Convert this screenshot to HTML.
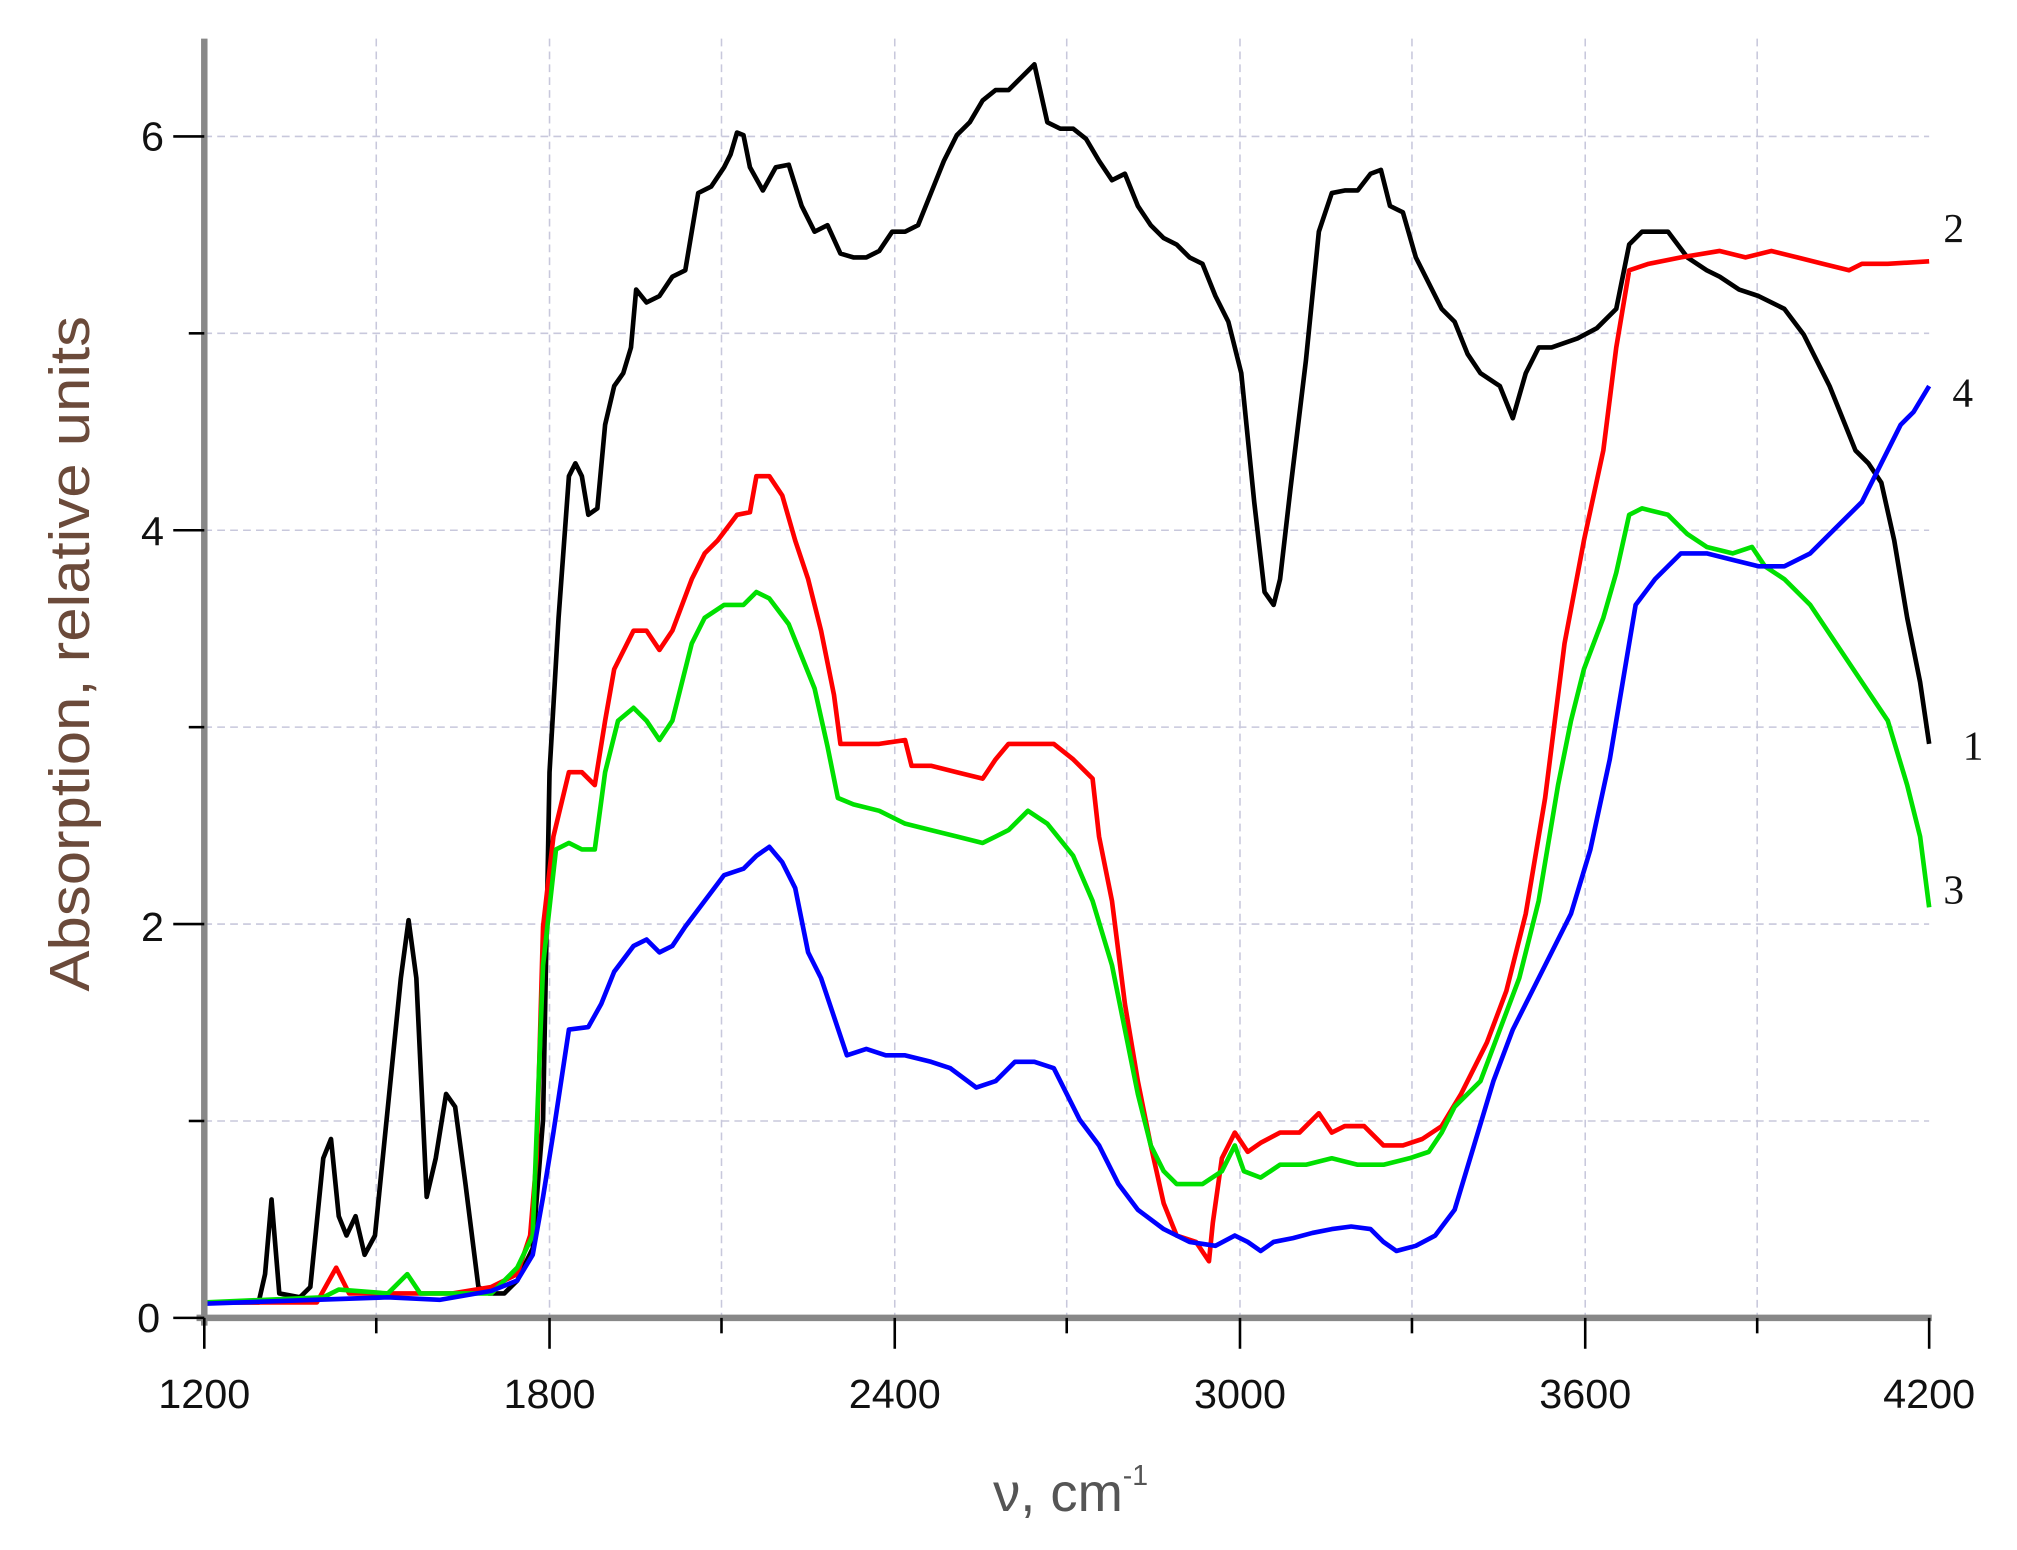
<!DOCTYPE html>
<html><head><style>html,body{margin:0;padding:0;background:#fff;}svg{display:block}</style></head>
<body>
<svg width="2017" height="1550" viewBox="0 0 2017 1550" xmlns="http://www.w3.org/2000/svg">
<rect width="2017" height="1550" fill="#fff"/>
<g transform="scale(1.293,1.287)">
<g stroke="#c8c8dc" stroke-width="1.2" stroke-dasharray="6,4" fill="none">
<line x1="291" y1="30" x2="291" y2="1024"/><line x1="425" y1="30" x2="425" y2="1024"/><line x1="558" y1="30" x2="558" y2="1024"/><line x1="692" y1="30" x2="692" y2="1024"/><line x1="825" y1="30" x2="825" y2="1024"/><line x1="959" y1="30" x2="959" y2="1024"/><line x1="1092" y1="30" x2="1092" y2="1024"/><line x1="1226" y1="30" x2="1226" y2="1024"/><line x1="1359" y1="30" x2="1359" y2="1024"/>
<line x1="158" y1="871" x2="1492" y2="871"/><line x1="158" y1="718" x2="1492" y2="718"/><line x1="158" y1="565" x2="1492" y2="565"/><line x1="158" y1="412" x2="1492" y2="412"/><line x1="158" y1="259" x2="1492" y2="259"/><line x1="158" y1="106" x2="1492" y2="106"/>
</g>
<g fill="none" stroke-width="3.6" stroke-linejoin="round">
<polyline stroke="#000" points="158,1012 200,1012 205,990 210,932 216,1005 232,1008 240,1000 250,900 256,885 262,945 268,960 275,945 282,975 290,960 300,860 310,760 316,715 322,760 330,930 337,900 345,850 352,860 360,920 370,1000 378,1005 390,1005 400,995 412,970 420,870 425,600 432,480 440,370 445,360 450,370 455,400 462,395 468,330 475,300 482,290 488,270 492,225 500,235 510,230 520,215 530,210 540,150 550,145 560,130 565,120 570,103 575,105 580,130 590,148 600,130 610,128 620,160 630,180 640,175 650,197 660,200 670,200 680,195 690,180 700,180 710,175 720,150 730,125 740,105 750,95 760,78 770,70 780,70 790,60 800,50 810,95 820,100 830,100 840,108 850,125 860,140 870,135 880,160 890,175 900,185 910,190 920,200 930,205 940,230 950,250 960,290 970,390 978,460 985,470 990,450 998,380 1010,280 1020,180 1030,150 1040,148 1050,148 1060,135 1068,132 1075,160 1085,165 1095,200 1105,220 1115,240 1125,250 1135,275 1145,290 1160,300 1170,325 1180,290 1185,280 1190,270 1200,270 1220,263 1235,255 1250,240 1260,190 1270,180 1290,180 1305,200 1320,210 1330,215 1345,225 1360,230 1370,235 1380,240 1395,260 1405,280 1415,300 1425,325 1435,350 1445,360 1455,375 1465,420 1475,480 1485,530 1492,578"/>
<polyline stroke="#f00" points="158,1012 245,1012 260,985 270,1005 300,1005 320,1005 350,1005 380,1000 400,990 410,960 415,900 420,720 428,650 440,600 450,600 460,610 468,560 475,520 490,490 500,490 510,505 520,490 535,450 545,430 555,420 570,400 580,398 585,370 595,370 605,385 615,420 625,450 635,490 645,540 650,578 660,578 680,578 700,575 705,595 720,595 740,600 760,605 770,590 780,578 800,578 815,578 830,590 845,605 850,650 860,700 870,780 880,840 890,890 900,935 910,960 925,965 935,980 938,950 945,900 955,880 965,895 975,888 990,880 1005,880 1020,865 1030,880 1040,875 1055,875 1060,880 1070,890 1085,890 1100,885 1115,875 1130,850 1150,810 1165,770 1180,710 1195,620 1210,500 1225,420 1240,350 1250,270 1260,210 1275,205 1300,200 1330,195 1350,200 1370,195 1390,200 1410,205 1430,210 1440,205 1460,205 1492,203"/>
<polyline stroke="#00e000" points="158,1012 250,1008 262,1002 300,1005 315,990 325,1005 380,1005 400,985 412,960 420,750 430,660 440,655 450,660 460,660 468,600 478,560 490,550 500,560 510,575 520,560 535,500 545,480 560,470 575,470 585,460 595,465 610,485 620,510 630,535 640,580 648,620 660,625 680,630 700,640 720,645 740,650 760,655 770,650 780,645 795,630 810,640 830,665 845,700 860,750 870,800 880,850 890,890 900,910 910,920 930,920 945,910 955,890 962,910 975,915 990,905 1010,905 1030,900 1050,905 1070,905 1090,900 1105,895 1115,880 1125,860 1145,840 1160,800 1175,760 1190,700 1205,610 1215,560 1225,520 1240,480 1250,445 1260,400 1270,395 1290,400 1305,415 1320,425 1340,430 1355,425 1365,440 1380,450 1400,470 1420,500 1440,530 1460,560 1475,610 1485,650 1492,705"/>
<polyline stroke="#00f" points="158,1013 300,1008 340,1010 380,1003 400,995 412,975 420,930 428,880 440,800 455,798 465,780 475,755 490,735 500,730 510,740 520,735 530,720 545,700 560,680 575,675 585,665 595,658 605,670 615,690 625,740 635,760 645,790 655,820 670,815 685,820 700,820 720,825 735,830 755,845 770,840 785,825 800,825 815,830 825,850 835,870 850,890 865,920 880,940 900,955 920,965 940,968 955,960 965,965 975,972 985,965 1000,962 1015,958 1030,955 1045,953 1060,955 1070,965 1080,972 1095,968 1110,960 1125,940 1140,890 1155,840 1170,800 1185,770 1200,740 1215,710 1230,660 1245,590 1255,530 1265,470 1280,450 1300,430 1320,430 1340,435 1360,440 1380,440 1400,430 1420,410 1440,390 1455,360 1470,330 1480,320 1492,300"/>
</g>
<g stroke="#888" stroke-width="5"><line x1="158" y1="30" x2="158" y2="1030"/><line x1="152" y1="1024" x2="1494" y2="1024"/></g>
<g stroke="#000" stroke-width="2">
<line x1="158" y1="1024" x2="158" y2="1048"/><line x1="425" y1="1024" x2="425" y2="1048"/><line x1="692" y1="1024" x2="692" y2="1048"/><line x1="959" y1="1024" x2="959" y2="1048"/><line x1="1226" y1="1024" x2="1226" y2="1048"/><line x1="1492" y1="1024" x2="1492" y2="1048"/>
<line x1="291" y1="1024" x2="291" y2="1036"/><line x1="558" y1="1024" x2="558" y2="1036"/><line x1="825" y1="1024" x2="825" y2="1036"/><line x1="1092" y1="1024" x2="1092" y2="1036"/><line x1="1359" y1="1024" x2="1359" y2="1036"/>
<line x1="134" y1="106" x2="158" y2="106"/><line x1="134" y1="412" x2="158" y2="412"/><line x1="134" y1="718" x2="158" y2="718"/><line x1="134" y1="1024" x2="158" y2="1024"/>
<line x1="146" y1="259" x2="158" y2="259"/><line x1="146" y1="565" x2="158" y2="565"/><line x1="146" y1="871" x2="158" y2="871"/>
</g>
<g font-family="Liberation Sans, sans-serif" font-size="32" fill="#111" text-anchor="middle">
<text x="158" y="1094">1200</text><text x="425" y="1094">1800</text><text x="692" y="1094">2400</text><text x="959" y="1094">3000</text><text x="1226" y="1094">3600</text><text x="1492" y="1094">4200</text>
<text x="118" y="117">6</text><text x="118" y="424">4</text><text x="118" y="731">2</text><text x="115" y="1035">0</text>
</g>
<text x="828" y="1174" font-family="Liberation Sans, sans-serif" font-size="42" fill="#555" text-anchor="middle">ν, cm<tspan font-size="22" dy="-20">-1</tspan></text>
<text transform="translate(69,508) rotate(-90)" font-family="Liberation Sans, sans-serif" font-size="44" fill="#6b4a3a" text-anchor="middle" textLength="525" lengthAdjust="spacingAndGlyphs">Absorption, relative units</text>
<g font-family="Liberation Serif, serif" font-size="32" fill="#111">
<text x="1503" y="188">2</text><text x="1510" y="316">4</text><text x="1518" y="590">1</text><text x="1503" y="702">3</text>
</g>
</g>
</svg>
</body></html>
